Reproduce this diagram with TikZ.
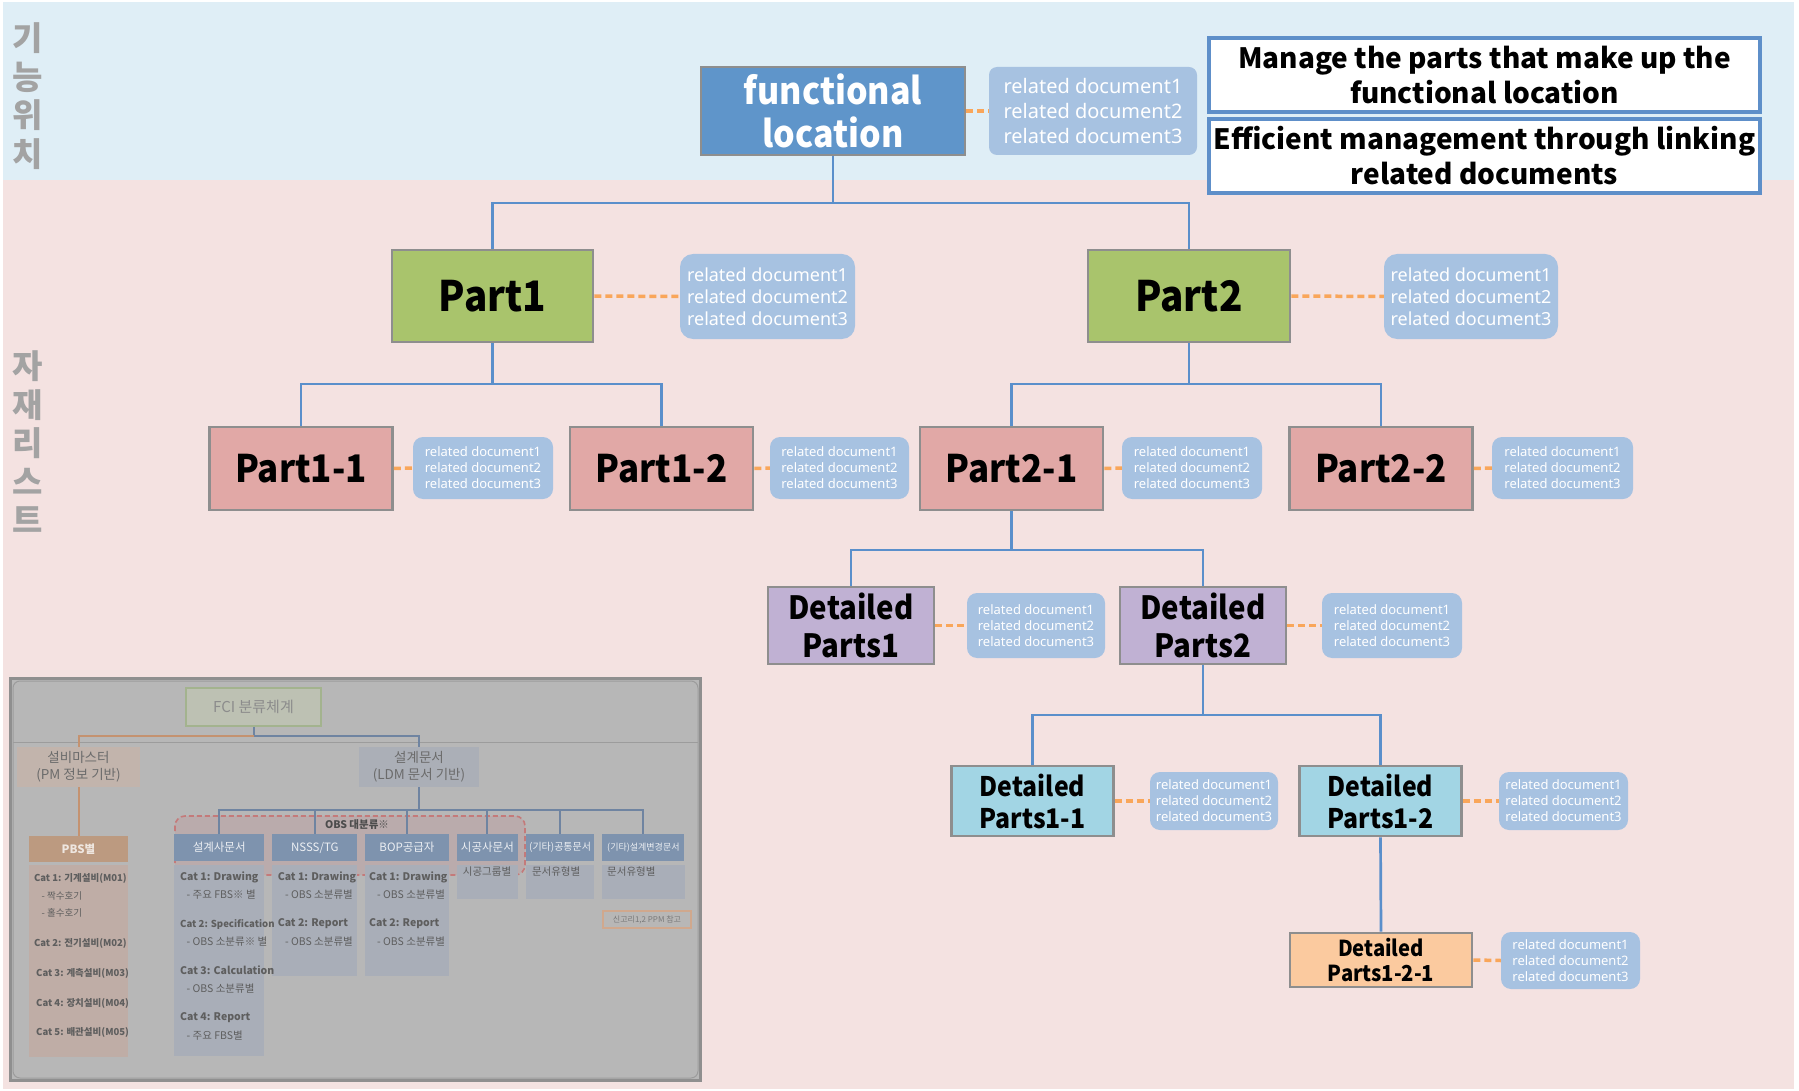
\documentclass[tikz,border=0pt]{standalone}
\usepackage{fontspec}
\setmainfont{Noto Sans}
\newfontfamily\lbl{Noto Sans CJK KR}[FakeStretch=0.92]
\newfontfamily\kr{Noto Sans CJK KR}
\newcommand\setfs[2]{\fontsize{#1}{#2}\selectfont}

\definecolor{bandblue}{HTML}{DFEEF6}
\definecolor{bandpink}{HTML}{F4E2E1}
\definecolor{flblue}{HTML}{5F95CA}
\definecolor{docfill}{HTML}{A7C2E1}
\definecolor{nodeborder}{HTML}{8E8E8E}
\definecolor{partgreen}{HTML}{A9C46C}
\definecolor{partpink}{HTML}{E1A8A6}
\definecolor{partpurple}{HTML}{C0B1D3}
\definecolor{partcyan}{HTML}{A2D5E4}
\definecolor{partpeach}{HTML}{FBCA9F}
\definecolor{linkblue}{HTML}{5A8FCB}
\definecolor{relorange}{HTML}{F9A65A}
\definecolor{noteborder}{HTML}{5E8FC9}
\definecolor{sidegray}{HTML}{A3A3A3}
% muted palette of the classification chart
\definecolor{ifr}{HTML}{8F8F8F}
\definecolor{ibg}{HTML}{B7B7B7}
\definecolor{iline}{HTML}{9C9C9C}
\definecolor{ifcifill}{HTML}{BDC1B3}
\definecolor{ifcidraw}{HTML}{A3B38E}
\definecolor{ipmfill}{HTML}{C2B4AC}
\definecolor{ildmfill}{HTML}{ABAFB7}
\definecolor{ipbshead}{HTML}{BC9A80}
\definecolor{ipbsbody}{HTML}{BFADA6}
\definecolor{ihead}{HTML}{7E93AE}
\definecolor{ibody}{HTML}{A9AEB8}
\definecolor{iblue}{HTML}{6F84A1}
\definecolor{iorange}{HTML}{C49270}
\definecolor{idash}{HTML}{C47A7A}
\definecolor{idashfill}{HTML}{BAABAC}
\definecolor{itext}{HTML}{5E5E5E}

\tikzset{
  box/.style={draw=nodeborder, line width=2.7pt, inner sep=0pt, align=center,
    text=black, font=\lbl\bfseries},
  doc/.style={fill=docfill, rounded corners=12pt, text=white, align=center, inner sep=0pt},
  docsmall/.style={doc, rounded corners=10pt, font=\setfs{13}{16}},
  link/.style={draw=linkblue, line width=2.7pt},
  rel/.style={draw=relorange, line width=3.5pt, dash pattern=on 7pt off 4pt},
  notebox/.style={draw=noteborder, line width=3.5pt, fill=white, inner sep=0pt,
    minimum width=551pt, minimum height=74pt, align=center, font=\kr\bfseries\setfs{28}{35}},
  side/.style={text=sidegray, align=center, font=\kr\bfseries\setfs{33}{38.5}},
  ihd/.style={fill=ihead, text=white!85!ihead, inner sep=0pt, minimum height=27pt,
    font=\kr\setfs{11.5}{13}},
  itx/.style={anchor=west, inner sep=0pt, text=itext, font=\kr\setfs{10.5}{12}},
  itb/.style={itx, font=\kr\bfseries\setfs{10.5}{12}},
}

\begin{document}
\begin{tikzpicture}[x=1pt,y=-1pt]
\useasboundingbox (0,0) rectangle (1799,1091);
\fill[white] (0,0) rectangle (1799,1091);
% the two bands
\fill[bandblue] (3,2) rectangle (1794,180);
\fill[bandpink] (3,180) rectangle (1794,1089);

% side captions
\node[side] (capfl) at (28,96) {기\\능\\위\\치};
\node[side] (capbom) at (28,442) {자\\재\\리\\스\\트};

% ---------- main hierarchy ----------
\node[box, fill=flblue, text=white, minimum width=264pt, minimum height=88pt,
  font=\lbl\bfseries\setfs{37}{43}] (fl) at (833,111) {functional\\location};
\node[doc, rounded corners=8pt, minimum width=208pt, minimum height=88pt,
  font=\setfs{20}{25}] (fldoc) at (1093,111) {related document1\\related document2\\related document3};

\node[notebox] (note1) at (1484.5,75) {Manage the parts that make up the\\functional location};
\node[notebox] (note2) at (1484.5,156) {Efficient management through linking\\related documents};

\node[box, fill=partgreen, minimum width=201pt, minimum height=92pt,
  font=\lbl\bfseries\setfs{42}{48}] (p1) at (492.5,296) {Part1};
\node[doc, minimum width=175pt, minimum height=85pt, rounded corners=13pt,
  font=\setfs{18}{22}] (p1doc) at (767.5,296.5) {related document1\\related document2\\related document3};
\node[box, fill=partgreen, minimum width=202pt, minimum height=92pt,
  font=\lbl\bfseries\setfs{42}{48}] (p2) at (1189,296) {Part2};
\node[doc, minimum width=174pt, minimum height=85pt, rounded corners=13pt,
  font=\setfs{18}{22}] (p2doc) at (1471,296.5) {related document1\\related document2\\related document3};

\tikzset{lvtwo/.style={box, fill=partpink, minimum width=183pt, minimum height=83pt,
  font=\lbl\bfseries\setfs{38}{44}}}
\node[lvtwo] (p11) at (301,468.5) {Part1-1};
\node[docsmall, minimum width=140pt, minimum height=62pt] (p11doc) at (483,468) {related document1\\related document2\\related document3};
\node[lvtwo] (p12) at (661.5,468.5) {Part1-2};
\node[docsmall, minimum width=139pt, minimum height=62pt] (p12doc) at (839.5,468) {related document1\\related document2\\related document3};
\node[lvtwo] (p21) at (1011.5,468.5) {Part2-1};
\node[docsmall, minimum width=140pt, minimum height=62pt] (p21doc) at (1192,468) {related document1\\related document2\\related document3};
\node[lvtwo] (p22) at (1381,468.5) {Part2-2};
\node[docsmall, minimum width=141pt, minimum height=62pt] (p22doc) at (1562.5,468) {related document1\\related document2\\related document3};

\tikzset{lvthree/.style={box, fill=partpurple, minimum width=166pt, minimum height=77pt,
  font=\lbl\bfseries\setfs{32}{38}}}
\node[lvthree] (d1) at (851,625.5) {Detailed\\Parts1};
\node[docsmall, minimum width=138pt, minimum height=65pt] (d1doc) at (1036,625.5) {related document1\\related document2\\related document3};
\node[lvthree] (d2) at (1203,625.5) {Detailed\\Parts2};
\node[docsmall, minimum width=140pt, minimum height=65pt] (d2doc) at (1392,625.5) {related document1\\related document2\\related document3};

\tikzset{lvfour/.style={box, fill=partcyan, minimum width=162pt, minimum height=70pt,
  font=\lbl\bfseries\setfs{27}{32}}}
\node[lvfour] (d11) at (1032.5,801) {Detailed\\Parts1-1};
\node[docsmall, minimum width=128pt, minimum height=58pt] (d11doc) at (1214,801) {related document1\\related document2\\related document3};
\node[lvfour] (d12) at (1380.5,801) {Detailed\\Parts1-2};
\node[docsmall, minimum width=129pt, minimum height=58pt] (d12doc) at (1563.5,801) {related document1\\related document2\\related document3};

\node[box, fill=partpeach, minimum width=182pt, minimum height=54pt,
  font=\lbl\bfseries\setfs{22}{25}] (d121) at (1381,960) {Detailed\\Parts1-2-1};
\node[docsmall, minimum width=139pt, minimum height=57pt] (d121doc) at (1570.5,960.5) {related document1\\related document2\\related document3};

% tree connectors
\coordinate (j0) at (833,203);
\coordinate (j1) at (492.5,384);
\coordinate (j2) at (1189,384);
\coordinate (j3) at (1011.5,550);
\coordinate (j4) at (1203,715);
\draw[link] (fl.south) -- (j0);
\draw[link] (p1.north) |- (j0) -| (p2.north);
\draw[link] (p1.south) -- (j1);
\draw[link] (p11.north) |- (j1) -| (p12.north);
\draw[link] (p2.south) -- (j2);
\draw[link] (p21.north) |- (j2) -| (p22.north);
\draw[link] (p21.south) -- (j3);
\draw[link] (d1.north) |- (j3) -| (d2.north);
\draw[link] (d2.south) -- (j4);
\draw[link] (d11.north) |- (j4) -| (d12.north);
\draw[link] (d12.south) -- (d121.north);

% document links
\foreach \a in {fl,p1,p2,p11,p12,p21,p22,d1,d2,d11,d12,d121}
  \draw[rel] (\a.east) -- (\a doc.west);

% ---------- classification chart ----------
\fill[ifr] (9,677) rectangle (702,1082);
\fill[ibg] (12,680) rectangle (699,1079);
\draw[iline, line width=1pt, rounded corners=7pt] (13,681) rectangle (698,1078);
\draw[iline, line width=1.2pt] (13,742.5) -- (698,742.5);

\fill[idashfill, rounded corners=10pt] (175,816) rectangle (525,875);
\draw[idash, line width=1.6pt, dash pattern=on 5pt off 3pt, rounded corners=10pt] (175,816) rectangle (525,875);

\node[fill=ifcifill, draw=ifcidraw, line width=1.5pt, minimum width=135pt, minimum height=38pt,
  inner sep=0pt, text=white!55!black, font=\kr\setfs{15}{17}] (fci) at (253.5,707) {FCI 분류체계};
\node[fill=ipmfill, minimum width=123pt, minimum height=40pt, inner sep=0pt, align=center,
  text=white!42!black, font=\kr\setfs{13.5}{17}] (pm) at (78.5,767) {설비마스터\\(PM 정보 기반)};
\node[fill=ildmfill, minimum width=120pt, minimum height=40pt, inner sep=0pt, align=center,
  text=white!42!black, font=\kr\setfs{13.5}{17}] (ldm) at (419,767) {설계문서\\(LDM 문서 기반)};

\node[fill=ipbshead, minimum width=99pt, minimum height=26pt, inner sep=0pt,
  text=white!75!ipbshead, font=\kr\bfseries\setfs{11.5}{13}] (pbs) at (78.5,849) {PBS별};
\fill[ipbsbody] (29,865) rectangle (128,1057);

\node[ihd, minimum width=90pt] (h1) at (219.2,847.5) {설계사문서};
\node[ihd, minimum width=85pt] (h2) at (314.8,847.5) {NSSS/TG};
\node[ihd, minimum width=84pt] (h3) at (407,847.5) {BOP공급자};
\node[ihd, minimum width=61pt] (h4) at (487.4,847.5) {시공사문서};
\node[ihd, minimum width=68pt, font=\kr\setfs{10}{12}] (h5) at (560.1,847.5) {(기타)공통문서};
\node[ihd, minimum width=82pt, font=\kr\setfs{9}{11}] (h6) at (643.4,847.5) {(기타)설계변경문서};

\fill[ibody] (174.3,865) rectangle (264.1,1056);
\fill[ibody] (272.1,865) rectangle (357.4,976);
\fill[ibody] (364.8,865) rectangle (449.2,976);
\fill[ibody] (456.9,865) rectangle (517.8,899);
\fill[ibody] (526,865) rectangle (594.2,899);
\fill[ibody] (602.3,865) rectangle (684.5,899);

% chart connectors
\coordinate (fj) at (253.5,736);
\coordinate (lj) at (419,810);
\draw[iblue, line width=2pt] (fci.south) -- (fj) -| (ldm.north);
\draw[iorange, line width=2pt] (fj) -| (pm.north);
\draw[iorange, line width=2pt] (pm.south) -- (pbs.north);
\draw[iblue, line width=2pt] (ldm.south) -- (lj);
\draw[iblue, line width=2pt] (h1.north) |- (lj) -| (h6.north);
\foreach \h in {h2,h3,h4,h5} \draw[iblue, line width=2pt] (\h.north) -- (\h.north |- lj);

\node[inner sep=0pt, text=white!30!black, font=\kr\bfseries\setfs{10.5}{12}] (obs) at (357,825) {OBS 대분류※};

% PBS column
\node[itb, font=\kr\bfseries\setfs{9.5}{11}] (pbs1) at (33.8,878) {Cat 1: 기계설비(M01)};
\node[itx, font=\kr\setfs{9.5}{11}] (pbs1a) at (41.5,896) {- 짝수호기};
\node[itx, font=\kr\setfs{9.5}{11}] (pbs1b) at (41.5,913) {- 홀수호기};
\node[itb, font=\kr\bfseries\setfs{9.5}{11}] (pbs2) at (33.8,943) {Cat 2: 전기설비(M02)};
\node[itb, font=\kr\bfseries\setfs{9.5}{11}] (pbs3) at (36,973) {Cat 3: 계측설비(M03)};
\node[itb, font=\kr\bfseries\setfs{9.5}{11}] (pbs4) at (36,1003) {Cat 4: 장치설비(M04)};
\node[itb, font=\kr\bfseries\setfs{9.5}{11}] (pbs5) at (36,1032) {Cat 5: 배관설비(M05)};

% design office column
\node[itb] (c1a) at (180,877) {Cat 1: Drawing};
\node[itx] (c1b) at (186.5,895) {- 주요 FBS※ 별};
\node[itb, font=\kr\bfseries\setfs{9.6}{12}] (c1c) at (180,924) {Cat 2: Specification};
\node[itx] (c1d) at (186.5,942) {- OBS 소분류※ 별};
\node[itb] (c1e) at (180,970) {Cat 3: Calculation};
\node[itx] (c1f) at (186.5,989) {- OBS 소분류별};
\node[itb] (c1g) at (180,1018) {Cat 4: Report};
\node[itx] (c1h) at (186.5,1036) {- 주요 FBS별};

% NSSS/TG column
\node[itb] (c2a) at (277.6,877) {Cat 1: Drawing};
\node[itx] (c2b) at (284.9,895) {- OBS 소분류별};
\node[itb] (c2c) at (277.6,924) {Cat 2: Report};
\node[itx] (c2d) at (284.9,942) {- OBS 소분류별};

% BOP column
\node[itb] (c3a) at (369,877) {Cat 1: Drawing};
\node[itx] (c3b) at (377,895) {- OBS 소분류별};
\node[itb] (c3c) at (369,924) {Cat 2: Report};
\node[itx] (c3d) at (377,942) {- OBS 소분류별};

\node[itx] (c4a) at (462.7,872) {시공그룹별};
\node[itx] (c5a) at (531.8,872) {문서유형별};
\node[itx] (c6a) at (607,872) {문서유형별};

\node[draw=iorange!80!white, line width=1.2pt, fill=ibg!90!ipmfill, minimum width=88pt,
  minimum height=17pt, inner sep=0pt, text=white!48!black, font=\kr\setfs{8}{9}] (ppm) at (647,919.5) {신고리1,2 PPM 참고};
\end{tikzpicture}
\end{document}
